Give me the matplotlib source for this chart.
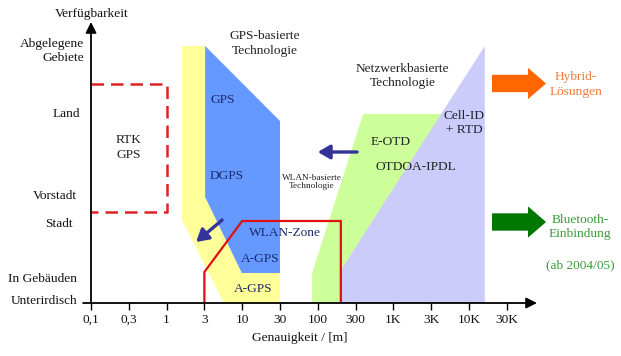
import matplotlib
matplotlib.use("Agg")
import matplotlib.pyplot as plt
from matplotlib.patches import Polygon
from matplotlib.transforms import blended_transform_factory

plt.rcParams['font.family'] = ['Liberation Serif', 'DejaVu Serif']

# ---------------- data ----------------
# x: accuracy, as position index of the tick labels; y: availability level
x_ticklabels = ["0,1", "0,3", "1", "3", "10", "30", "100", "300", "1K", "3K", "10K", "30K"]
y_labels = ["Unterirdisch", "In Gebäuden", "Stadt", "Vorstadt", "Land", "Abgelegene\nGebiete"]
y_levels = [2, 24, 79, 107, 189, 252]

gps_assisted_x = [2.41, 3.02, 3.02, 3.99, 5.0, 5.0, 3.52, 2.41]
gps_assisted_y = [257, 257, 106, 30, 30, 0, 0, 83]
gps_x = [3.02, 5.0, 5.0, 3.99, 3.02]
gps_y = [257, 182, 30, 30, 106]
eotd_x = [5.85, 5.85, 7.2, 9.29, 6.61, 6.61]
eotd_y = [0, 30, 189, 189, 33, 0]
cellid_x = [6.61, 6.61, 10.42, 10.42]
cellid_y = [0, 33, 257, 0]
wlan_x = [3.0, 3.0, 4.0, 6.61, 6.61]
wlan_y = [0, 31, 82, 82, 0]
rtk_x = [0.0, 2.01, 2.01, 0.0]
rtk_y = [219, 219, 91, 91]

# ---------------- figure ----------------
W, H = 621, 356
fig = plt.figure(figsize=(W / 100, H / 100), dpi=100)
x0, x1, y0, y1 = 91, 537, 303, 22   # pixel positions of axes box
ax = fig.add_axes([x0 / W, (H - y0) / H, (x1 - x0) / W, (y0 - y1) / H])
ax.set_xlim(0, 11.8)
ax.set_ylim(0, 281)
for s in ax.spines.values():
    s.set_visible(False)

fs = 9.6
ls = 1.25

ax.add_patch(Polygon(list(zip(gps_assisted_x, gps_assisted_y)), closed=True, fc='#ffff99', ec='none', zorder=1))
ax.add_patch(Polygon(list(zip(gps_x, gps_y)), closed=True, fc='#6699ff', ec='none', zorder=2))
ax.add_patch(Polygon(list(zip(eotd_x, eotd_y)), closed=True, fc='#ccff99', ec='none', zorder=1))
ax.add_patch(Polygon(list(zip(cellid_x, cellid_y)), closed=True, fc='#ccccfa', ec='none', zorder=2))
ax.plot(wlan_x, wlan_y, color='#dd1111', lw=1.6, zorder=4, solid_joinstyle='miter')
ax.plot(rtk_x, rtk_y, color='#dd2222', lw=1.8, ls=(0, (5, 2.8)), zorder=4, clip_on=False)

# axes with arrows
ax.annotate('', xy=(11.8, 0), xytext=(-0.21, 0),
            arrowprops=dict(arrowstyle='-|>', lw=1.3, color='black', mutation_scale=16,
                            shrinkA=0, shrinkB=0), annotation_clip=False, zorder=6)
ax.annotate('', xy=(0, 281), xytext=(0, 0),
            arrowprops=dict(arrowstyle='-|>', lw=1.3, color='black', mutation_scale=16,
                            shrinkA=0, shrinkB=0), annotation_clip=False, zorder=6)

ax.set_xticks(range(len(x_ticklabels)))
ax.set_xticklabels(x_ticklabels, fontsize=fs, color='#111111')
ax.tick_params(axis='x', length=5, width=1, pad=3, direction='out')
ax.set_yticks([])

ax.set_xlabel("Genauigkeit / [m]", fontsize=fs, color='#111111')
ax.xaxis.set_label_coords((300 - x0) / (x1 - x0), (y0 - 338) / (y0 - y1))
ax.xaxis.label.set_va('center')
ax.set_ylabel("Verfügbarkeit", fontsize=fs, rotation=0, ha='center', va='center', color='#111111')
ax.yaxis.set_label_coords((92 - x0) / (x1 - x0), (y0 - 14) / (y0 - y1))

# y category labels
ytr = blended_transform_factory(ax.transAxes, ax.transData)
y_label_right = [77, 77, 73, 77, 80, 84]
for lab, lev, r in zip(y_labels, y_levels, y_label_right):
    ax.text((r - x0) / (x1 - x0), lev, lab, transform=ytr, ha='right', va='center',
            fontsize=fs, multialignment='right', linespacing=ls, color='#111111')

# region texts
navy = '#1a2a6c'
texts = [
    ("GPS-basierte\nTechnologie", 4.6, 259.5, 'center', fs, '#222222'),
    ("Netzwerkbasierte\nTechnologie", 8.25, 227, 'center', fs, '#222222'),
    ("RTK\nGPS", 1.0, 155.5, 'center', fs, '#222222'),
    ("GPS", 3.15, 203, 'left', fs, navy),
    ("DGPS", 3.15, 127, 'left', fs, navy),
    ("WLAN-Zone", 5.13, 70, 'center', fs, navy),
    ("A-GPS", 4.47, 44, 'center', fs, navy),
    ("A-GPS", 4.29, 14, 'center', fs, navy),
    ("WLAN-basierte\nTechnologie", 5.85, 121.5, 'center', 6.7, '#222222'),
    ("E-OTD", 7.94, 161, 'center', fs, '#222222'),
    ("OTDOA-IPDL", 8.6, 136, 'center', fs, '#222222'),
    ("Cell-ID\n+ RTD", 9.87, 180, 'center', fs, '#222233'),
    ("Hybrid-\nLösungen", 12.83, 218.5, 'center', fs, '#f07a3a'),
    ("Bluetooth-\nEinbindung", 12.94, 76, 'center', fs, '#3a9a3a'),
    ("(ab 2004/05)", 12.94, 38, 'center', fs, '#3a9a3a'),
]
for t, x, y, ha, size, c in texts:
    ax.text(x, y, t, ha=ha, va='center', fontsize=size, color=c,
            linespacing=(1.0 if size < 8 else ls), clip_on=False, zorder=5)

# blue arrows
for (tx, ty), (hx, hy) in [((3.47, 83), (2.78, 61)), ((7.04, 151), (6.0, 151))]:
    ax.annotate('', xy=(hx, hy), xytext=(tx, ty),
                arrowprops=dict(arrowstyle='-|>,head_length=0.6,head_width=0.35', lw=2.4,
                                color='#333399', mutation_scale=12, shrinkA=0, shrinkB=0),
                annotation_clip=False, zorder=6)

# big arrows
for yc, col in [(219.5, '#ff6600'), (81, '#007700')]:
    ax.annotate('', xy=(12.04, yc), xytext=(10.61, yc),
                arrowprops=dict(arrowstyle='simple,head_length=1.3,head_width=2.25,tail_width=1.25',
                                fc=col, ec='none', mutation_scale=10, shrinkA=0, shrinkB=0),
                annotation_clip=False, zorder=6)

fig.savefig("out.png", dpi=100)
